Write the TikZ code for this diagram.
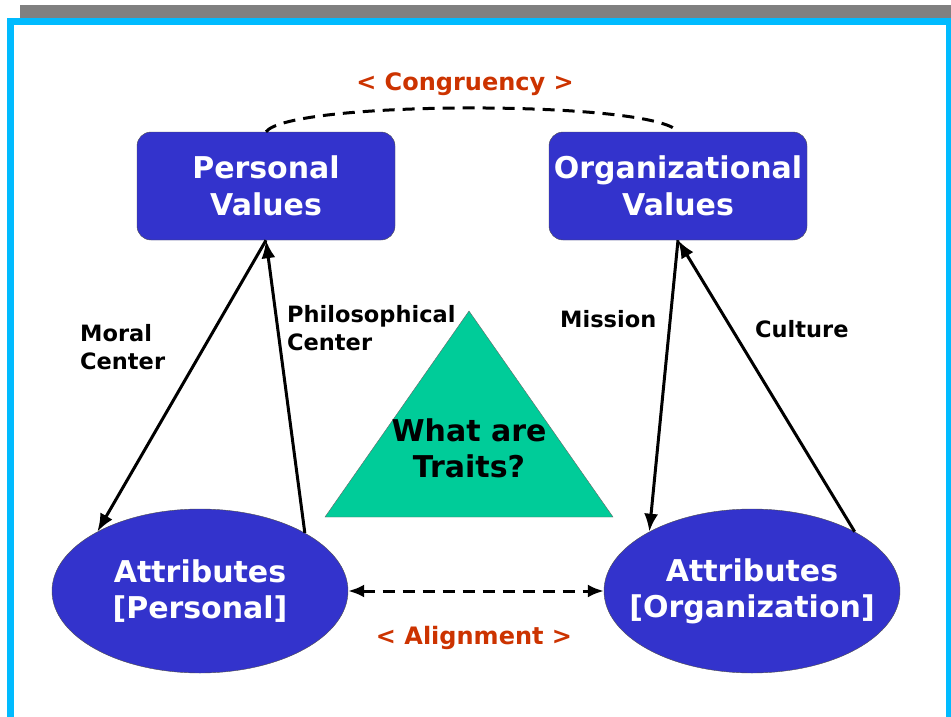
\documentclass[tikz,border=0pt]{standalone}
\usepackage{fontspec}
\setmainfont{DejaVu Sans}
\usetikzlibrary{arrows.meta,positioning,shapes.geometric}
\definecolor{trblue}{HTML}{3333CC}
\definecolor{trgreen}{HTML}{00CC99}
\definecolor{trorange}{HTML}{CC3300}
\definecolor{trcyan}{HTML}{00BBFF}
\definecolor{trgray}{HTML}{808080}

\begin{document}
\begin{tikzpicture}[x=1pt,y=-1pt,
    valuebox/.style={draw=black!70,fill=trblue,rounded corners=14pt,minimum width=258pt,minimum height=108pt,inner sep=0pt,text=white,font=\fontsize{30}{37}\selectfont\bfseries,align=center},
    attrnode/.style={ellipse,draw=black!70,fill=trblue,minimum width=296pt,minimum height=164pt,inner xsep=-60pt,inner ysep=0pt,text=white,font=\fontsize{30}{36}\selectfont\bfseries,align=center},
    linklabel/.style={font=\fontsize{22.5}{28}\selectfont\bfseries,align=left,anchor=west,inner sep=0pt},
    relabel/.style={text=trorange,font=\fontsize{24}{28}\selectfont\bfseries,inner sep=0pt},
    flow/.style={-{Latex[length=18pt,width=14pt]},line width=3pt},
    dashlink/.style={dash pattern=on 12pt off 8pt,line width=3pt}
  ]
    \useasboundingbox (0,0) rectangle (951,717);
    % frame
    \fill[trgray] (20,5) rectangle (951,18);
    \draw[trcyan,line width=7pt] (10.5,730) -- (10.5,21.5) -- (949.5,21.5) -- (949.5,730);

    \node[valuebox] (pv) at (266,186) {Personal\\Values};
    \node[valuebox] (ov) at (678,186) {Organizational\\Values};
    \node[attrnode] (ap) at (200,591) {Attributes\\{[Personal]}};
    \node[attrnode] (ao) at (752,591) {Attributes\\{[Organization]}};

    % traits triangle
    \draw[black!60,fill=trgreen] (469,311) -- (613,517) -- (325,517) -- cycle;
    \node[font=\fontsize{30}{36}\selectfont\bfseries,align=center,inner sep=0pt] (traits) at (469,448) {What are\\Traits?};

    \draw[flow] (pv.south) -- (ap.150);
    \draw[flow] (ap.29) -- (pv.south);
    \draw[flow] (ov.south) -- (ao.150);
    \draw[flow] (ao.30) -- (ov.south);
    \draw[dashlink,{Latex[length=16pt,width=13pt]}-{Latex[length=16pt,width=13pt]}] (ap.east) -- (ao.west);
    \draw[dashlink] (pv.north) .. controls (290,100) and (655,100) .. (ov.north);

    \node[linklabel] (moral) at (80,347) {Moral\\Center};
    \node[linklabel] (philo) at (287,328) {Philosophical\\Center};
    \node[linklabel] (mission) at (560,319) {Mission};
    \node[linklabel] (culture) at (755,329) {Culture};
    \node[relabel] (congruency) at (465,84) {< Congruency >};
    \node[relabel] (alignment) at (474,638) {< Alignment >};
  \end{tikzpicture}
\end{document}
